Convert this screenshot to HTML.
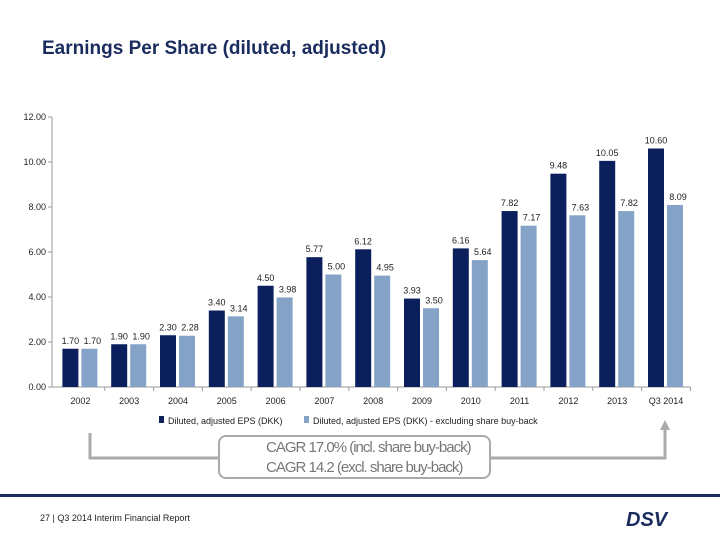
<!DOCTYPE html>
<html><head><meta charset="utf-8"><style>
body{margin:0;width:720px;height:540px;background:#fff;overflow:hidden;font-family:"Liberation Sans",sans-serif}
svg{position:absolute;left:0;top:0}
</style></head><body>
<svg width="720" height="540" id="chart">
<text x="42" y="54" font-size="19" font-weight="bold" fill="#1a2b5e">Earnings Per Share (diluted, adjusted)</text>
<g id="axes"></g><g id="bars"></g><g id="labels"></g>
<g>
<rect x="159" y="416" width="5" height="7" fill="#0d2258"/>
<text x="168" y="424" font-size="9" fill="#222">Diluted, adjusted EPS (DKK)</text>
<rect x="304" y="416" width="5" height="7" fill="#84a3c6"/>
<text x="313" y="424" font-size="9" fill="#222">Diluted, adjusted EPS (DKK) - excluding share buy-back</text>
</g>
<polyline points="90,433 90,458 218,458" fill="none" stroke="#aaa" stroke-width="3"/>
<polyline points="490,458 665,458 665,428" fill="none" stroke="#aaa" stroke-width="3"/>
<polygon points="660,430 670,430 665,420" fill="#aaa"/>
<rect x="219" y="436" width="271" height="42" rx="7" fill="#fff" stroke="#aaa" stroke-width="2"/>
<text x="266" y="452" font-size="15" fill="#777" letter-spacing="-1">CAGR 17.0% (incl. share buy-back)</text>
<text x="266" y="472" font-size="15" fill="#777" letter-spacing="-1">CAGR 14.2 (excl. share buy-back)</text>
<rect x="0" y="494" width="720" height="3" fill="#1a2b5e"/>
<text x="40" y="521" font-size="9" fill="#222">27 | Q3 2014 Interim Financial Report</text>
<text x="626" y="526" font-size="20" font-weight="bold" fill="#1a2b5e" font-style="italic">DSV</text>
</svg>
<script>
const categories=["2002","2003","2004","2005","2006","2007","2008","2009","2010","2011","2012","2013","Q3 2014"];
const epsIncl=[1.70,1.90,2.30,3.40,4.50,5.77,6.12,3.93,6.16,7.82,9.48,10.05,10.60];
const epsExcl=[1.70,1.90,2.28,3.14,3.98,5.00,4.95,3.50,5.64,7.17,7.63,7.82,8.09];
const yTicks=[0,2,4,6,8,10,12];
const NS="http://www.w3.org/2000/svg";
const y0=387,pxPer=22.5,x0=56,step=48.8;
const y=v=>y0-v*pxPer;
const xc=i=>x0+step*i+step/2;
function mk(t,a,p){const e=document.createElementNS(NS,t);for(const k in a)e.setAttribute(k,a[k]);document.getElementById(p).appendChild(e);return e;}
const ax=mk('line',{x1:52,y1:117,x2:52,y2:387,stroke:'#999'},'axes');


const bx=mk('line',{x1:52,y1:387,x2:x0+step*13,y2:387,stroke:'#999'},'axes');


yTicks.forEach(t=>{
 mk('line',{x1:48,y1:y(t),x2:52,y2:y(t),stroke:'#999'},'axes');
 const tx=mk('text',{x:46,y:y(t)+3,'font-size':9,'text-anchor':'end',fill:'#222'},'axes');
 tx.textContent=t.toFixed(2);
 
 
});
categories.forEach((c,i)=>{
 mk('line',{x1:x0+step*(i+1),y1:387,x2:x0+step*(i+1),y2:391,stroke:'#999'},'axes');
 const tx=mk('text',{x:xc(i),y:404,'font-size':9,'text-anchor':'middle',fill:'#222'},'axes');
 tx.textContent=c;
 
 
 const b1=mk('rect',{x:xc(i)-18,y:y(epsIncl[i]),width:16,height:epsIncl[i]*pxPer,fill:'#0a1f5c'},'bars');
 
 
 const b2=mk('rect',{x:xc(i)+1,y:y(epsExcl[i]),width:16,height:epsExcl[i]*pxPer,fill:'#84a3c6'},'bars');
 
 
 const l1=mk('text',{x:xc(i)-10,y:y(epsIncl[i])-5,'font-size':9,'text-anchor':'middle',fill:'#222'},'labels');
 l1.textContent=epsIncl[i].toFixed(2);
 
 
 const l2=mk('text',{x:xc(i)+12,y:y(epsExcl[i])-5,'font-size':9,'text-anchor':'middle',fill:'#222'},'labels');
 l2.textContent=epsExcl[i].toFixed(2);
 
 
});
</script>
</body></html>
